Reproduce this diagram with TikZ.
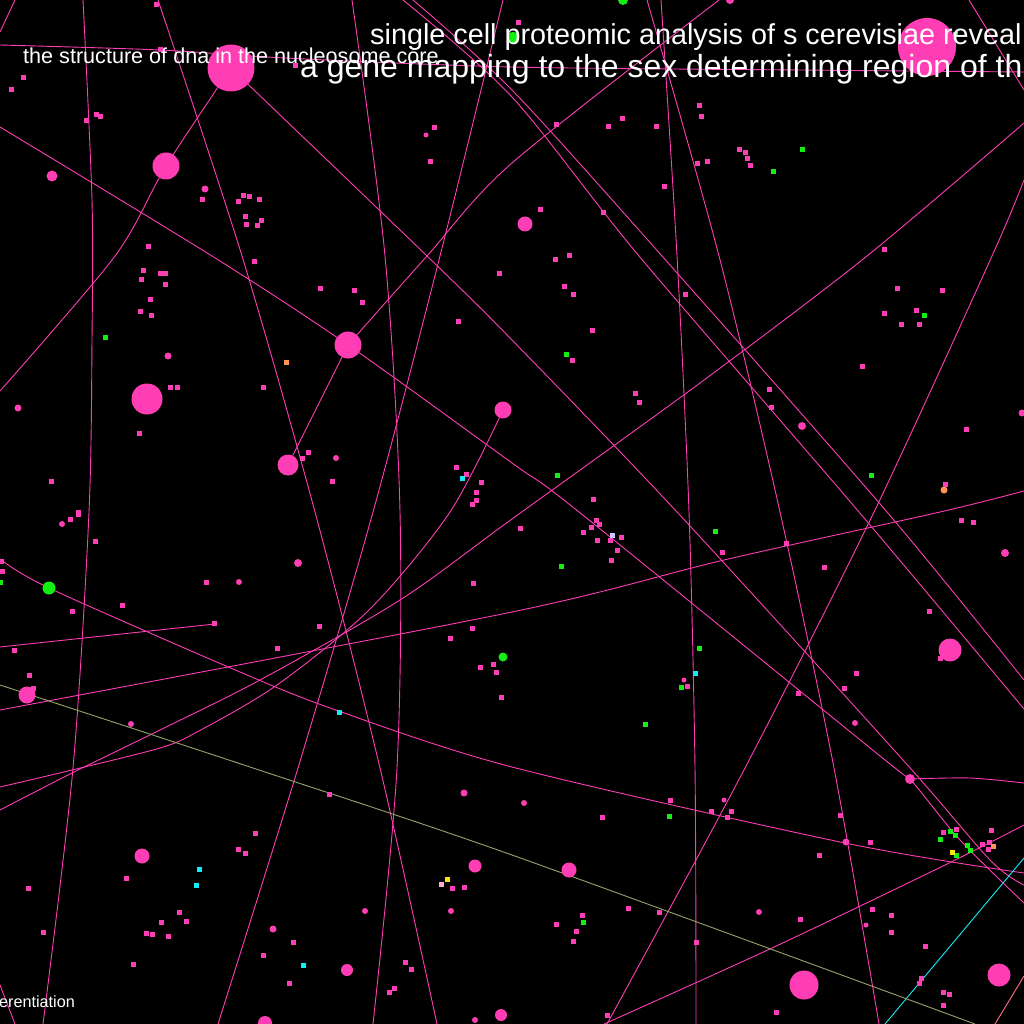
\documentclass[tikz,border=0pt]{standalone}
\usepackage{fontspec}
\setmainfont{Liberation Sans}
\definecolor{pk}{RGB}{255,61,180}
\definecolor{gn}{RGB}{20,238,20}
\definecolor{cy}{RGB}{20,235,245}
\definecolor{og}{RGB}{255,150,80}
\definecolor{yl}{RGB}{255,225,20}
\definecolor{lv}{RGB}{205,200,255}
\definecolor{lp}{RGB}{255,175,195}
\definecolor{ol}{RGB}{150,165,105}
\definecolor{sal}{RGB}{255,110,130}
\begin{document}
\begin{tikzpicture}[x=1pt,y=-1pt,
  edge/.style={pk,line width=0.9pt},
  bub/.style={circle,fill=pk,inner sep=0pt},
  lbl/.style={text=white,inner sep=0pt,anchor=base west},
]
\fill[black] (0,0) rectangle (1024,1024);
\useasboundingbox (0,0) rectangle (1024,1024);
\clip (0,0) rectangle (1024,1024);

% ---------- edges ----------
\draw[edge] plot[smooth] coordinates {(15,0) (0,32)};
\draw[edge] plot[smooth] coordinates {(0,45) (160,50) (285,58) (512,67) (800,70) (1024,72)};
\draw[edge] plot[smooth] coordinates {(83,0) (92,200) (92,340) (89,512) (73,768) (43,1024)};
\draw[edge] plot[smooth] coordinates {(158,0) (242,256) (315,512) (380,768) (437,1024)};
\draw[edge] plot[smooth] coordinates {(231,68) (166,166) (115,256) (0,391)};
\draw[edge] plot[smooth] coordinates {(231,68) (427,256) (512,340) (677,512) (903,760) (990,860) (1024,885)};
\draw[edge] plot[smooth] coordinates {(0,127) (212,256) (348,345) (512,463) (579,512) (885,760) (910,779) (960,840) (1024,903)};
\draw[edge] plot[smooth] coordinates {(719,0) (512,163) (427,256) (348,345)};
\draw[edge] plot[smooth] coordinates {(352,0) (385,256) (400,512) (397,768) (373,1024)};
\draw[edge] plot[smooth] coordinates {(503,0) (440,256) (373,512) (298,768) (218,1024)};
\draw[edge] plot[smooth] coordinates {(503,410) (450,512) (370,609) (277,685) (197,732) (160,748) (72,770) (0,787)};
\draw[edge] plot[smooth] coordinates {(0,810) (72,773) (160,730) (260,680) (400,600) (512,519) (700,383) (867,256) (1024,123)};
\draw[edge] plot[smooth] coordinates {(661,0) (677,256) (689,512) (695,768) (696,1024)};
\draw[edge] plot[smooth] coordinates {(647,0) (719,256) (780,512) (834,768) (879,1024)};
\draw[edge] plot[smooth] coordinates {(403,0) (512,97) (639,256) (859,512) (1024,709)};
\draw[edge] plot[smooth] coordinates {(413,0) (512,90) (662,256) (887,512) (1024,680)};
\draw[edge] plot[smooth] coordinates {(1024,180) (992,256) (874,512) (745,768) (607,1024)};
\draw[edge] plot[smooth] coordinates {(969,0) (1024,90)};
\draw[edge] plot[smooth] coordinates {(1024,491) (940,512) (724,560) (512,612) (0,710)};
\draw[edge] plot[smooth] coordinates {(0,647) (215,624)};
\draw[edge] plot[smooth] coordinates {(0,559) (49,588) (233,669) (333,709) (512,767) (845,843) (1024,873)};
\draw[edge] plot[smooth] coordinates {(910,779) (970,778) (1024,783)};
\draw[edge] plot[smooth] coordinates {(604,1024) (772,948) (945,865) (1024,825)};
\draw[edge] plot[smooth] coordinates {(0,985) (15,1024)};
\draw[cy,line width=0.9pt] (885,1024) -- (1024,858);
\draw[ol,line width=0.9pt] plot[smooth] coordinates {(0,685) (253,768) (512,855) (975,1024)};
\draw[sal,line width=0.9pt] (1024,976) -- (995,1024);

% ---------- big nodes ----------
\node[bub,minimum size=47pt] (n1) at (231,68) {};
\node[bub,minimum size=58pt] (n2) at (927,47) {};
\node[bub,minimum size=27pt] (n3) at (166,166) {};
\node[bub,minimum size=27pt] (n4) at (348,345) {};
\node[bub,minimum size=31pt] (n5) at (147,399) {};
\node[bub,minimum size=17pt] (n6) at (503,410) {};
\node[bub,minimum size=21pt] (n7) at (288,465) {};
\node[bub,minimum size=15pt] (n8) at (525,224) {};
\node[bub,minimum size=17pt] (n9) at (27,695) {};
\node[bub,minimum size=23pt] (n10) at (950,650) {};
\node[bub,minimum size=15pt] (n11) at (142,856) {};
\node[bub,minimum size=15pt] (n12) at (569,870) {};
\node[bub,minimum size=29pt] (n13) at (804,985) {};
\node[bub,minimum size=23pt] (n14) at (999,975) {};
\node[bub,minimum size=13pt] (n15) at (475,866) {};
\node[bub,minimum size=12pt] (n16) at (347,970) {};
\node[bub,minimum size=14pt] (n17) at (265,1023) {};
\node[bub,minimum size=12pt] (n18) at (501,1015) {};
\node[bub,minimum size=11pt] (n19) at (52,176) {};
\node[bub,minimum size=10pt] (n20) at (910,779) {};
\node[circle,fill=gn,inner sep=0pt,minimum size=13pt] (g1) at (49,588) {};
\node[circle,fill=gn,inner sep=0pt,minimum size=9pt] (g2) at (503,657) {};
\node[circle,fill=gn,inner sep=0pt,minimum size=12pt] (g3) at (513,38) {};
\node[circle,fill=gn,inner sep=0pt,minimum size=10pt] (g4) at (623,0) {};
\draw[edge] (n4) -- (n7);

% ---------- small round dots ----------
\foreach \x/\y/\r in {18/408/3.5,168/356/3.5,802/426/4,1005/553/4,1022/413/3.5,
  524/803/3,759/912/3,846/842/3.5,866/925/2.5,724/800/2.5,855/723/3,684/680/2.5,
  365/911/3,451/911/3,475/1020/3,239/582/3,62/524/3,336/458/3,205/189/3.5,426/135/2.5,
  464/793/3.5,273/929/3.5,298/563/4,131/724/3,730/0/4}
  \fill[pk] (\x,\y) circle (\r);
\fill[og] (944,490) circle (3.5);

% ---------- small squares ----------
\foreach \x/\y in {156/5,160/50,23/78,11/90,295/66,434/128,430/162,96/115,100/117,86/121,
  202/200,238/202,243/196,249/197,259/200,245/217,261/221,246/225,257/226,148/246,
  518/23,699/106,701/117,622/119,608/127,656/127,556/125,739/150,745/153,747/159,750/166,
  697/164,707/162,664/187,540/210,603/213,569/255,884/249,
  143/270,160/273,165/273,141/279,165/284,150/299,140/311,151/315,170/387,177/387,139/433,
  51/481,254/261,320/288,354/290,362/302,263/387,499/273,458/321,308/452,302/458,332/481,
  456/467,466/474,481/482,476/492,476/500,472/504,78/512,
  555/259,564/286,573/294,592/330,572/360,685/294,635/393,639/402,593/499,769/389,771/407,
  897/288,942/290,884/313,916/310,901/324,919/324,862/366,966/429,945/484,
  78/514,70/519,95/541,1/561,2/571,206/582,122/605,72/611,214/623,319/626,277/648,14/650,
  29/675,33/688,473/583,472/628,450/638,480/667,493/664,496/672,501/697,
  520/528,596/520,599/524,591/527,583/532,621/537,597/540,610/540,617/550,611/560,722/552,
  786/543,824/567,961/520,973/522,929/611,940/658,687/686,856/673,844/688,798/693,
  329/794,255/833,238/849,245/853,126/878,28/888,43/932,179/912,161/922,186/921,146/933,
  152/934,168/936,133/964,452/888,464/887,293/942,263/955,289/983,405/962,411/969,394/988,
  389/992,
  602/817,670/800,711/811,731/811,727/817,840/815,870/842,819/855,943/832,956/829,982/844,
  989/842,988/849,991/830,582/915,556/924,576/931,573/941,628/908,659/912,800/919,696/942,
  872/909,891/915,891/932,925/946,921/978,919/983,943/992,949/994,943/1005,776/1012,607/1015}
  \fill[pk] (\x,\y) +(-2.5,-2.5) rectangle +(2.5,2.5);
\foreach \x/\y in {955/35,802/150,773/172,105/337,566/354,557/475,924/315,871/475,0/582,
  561/566,715/531,699/648,681/687,645/724,669/816,950/831,955/835,940/839,967/845,970/850,956/855,583/922}
  \fill[gn] (\x,\y) +(-2.5,-2.5) rectangle +(2.5,2.5);
\foreach \x/\y in {462/478,339/712,695/673,199/869,196/885,303/965}
  \fill[cy] (\x,\y) +(-2.5,-2.5) rectangle +(2.5,2.5);
\fill[og] (286,362) +(-2.5,-2.5) rectangle +(2.5,2.5);
\fill[og] (993,846) +(-2.5,-2.5) rectangle +(2.5,2.5);
\fill[yl] (447,879) +(-2.5,-2.5) rectangle +(2.5,2.5);
\fill[yl] (952,852) +(-2.5,-2.5) rectangle +(2.5,2.5);
\fill[lv] (612,535) +(-2.5,-2.5) rectangle +(2.5,2.5);
\fill[lp] (441,884) +(-2.5,-2.5) rectangle +(2.5,2.5);

% ---------- labels ----------
\node[lbl,font=\fontsize{21.6}{24}\selectfont] (t1) at (23,64) {the structure of dna in the nucleosome core};
\node[lbl,font=\fontsize{28.8}{32}\selectfont] (t2) at (370,45) {single cell proteomic analysis of s cerevisiae reveal};
\node[lbl,font=\fontsize{32}{36}\selectfont] (t3) at (300,78) {a gene mapping to the sex determining region of th};
\node[lbl,font=\fontsize{16.2}{18}\selectfont] (t4) at (-1,1007) {erentiation};
\end{tikzpicture}
\end{document}
